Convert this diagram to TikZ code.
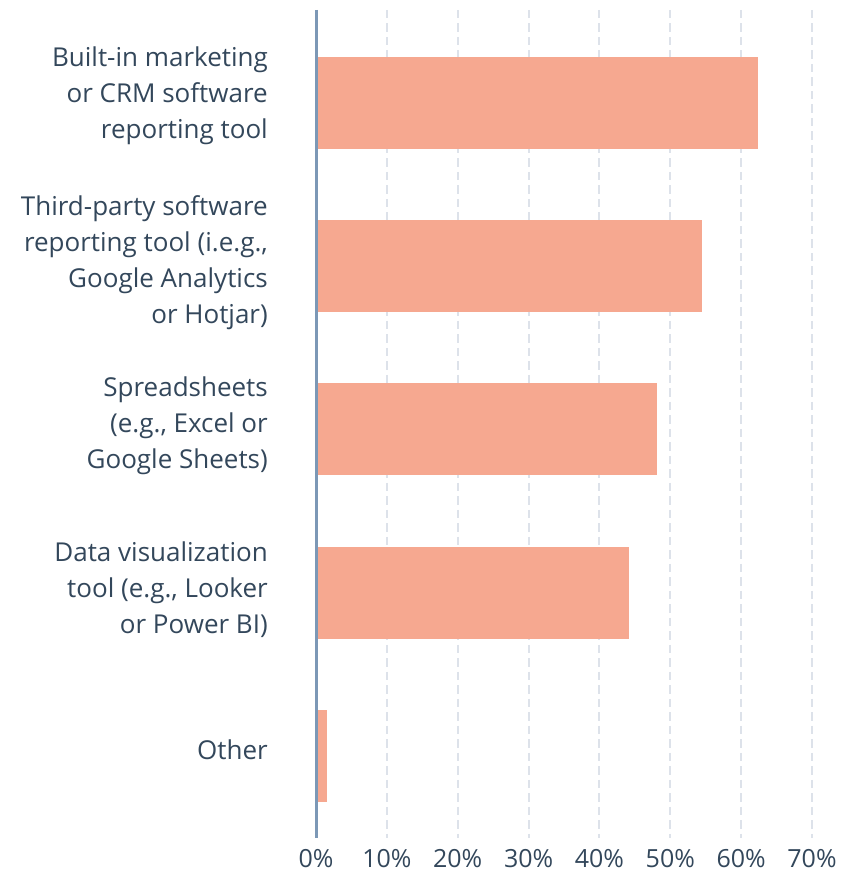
\documentclass[tikz,border=0pt]{standalone}
\usepackage{fontspec}
\setmainfont{Open Sans}[Ligatures=NoCommon]
\definecolor{txt}{HTML}{33475B}
\definecolor{axisc}{HTML}{7C98B6}
\definecolor{barc}{HTML}{F6A890}
\definecolor{gridc}{HTML}{DDE2EA}
\begin{document}
\begin{tikzpicture}[x=1pt,y=-1pt,
  lab/.style={anchor=east,align=right,inner sep=0pt,text=txt,
    font=\fontsize{26}{36}\selectfont},
  ticklab/.style={anchor=center,inner sep=0pt,text=txt,
    font=\fontsize{25}{30}\selectfont},
  gridl/.style={draw=gridc,line width=2pt,dash pattern=on 8.5pt off 5pt},
  barbox/.style={fill=barc,draw=none},
  axisl/.style={draw=axisc,line width=3pt}]
\useasboundingbox (0,0) rectangle (854,874);
% gridlines
\foreach \i in {1,...,7}{
  \coordinate (gt\i) at ({316+70.86*\i},10);
  \coordinate (gb\i) at ({316+70.86*\i},838);
  \draw[gridl] (gt\i) -- (gb\i);
}
% bars
\fill[barbox] (316,57) rectangle (758,148.7);
\fill[barbox] (316,220) rectangle (702,311.7);
\fill[barbox] (316,383) rectangle (657,474.7);
\fill[barbox] (316,547) rectangle (629,638.7);
\fill[barbox] (316,710) rectangle (327,801.7);
% axis
\coordinate (atop) at (316,10);
\coordinate (abot) at (316,838);
\draw[axisl] (atop) -- (abot);
% labels
\node[lab] (l1) at (268,96) {Built-in marketing\\or CRM software\\reporting tool};
\node[lab] (l2) at (268,263) {Third-party software\\reporting tool (i.e.g.,\\Google Analytics\\or Hotjar)};
\node[lab] (l3) at (268,426) {Spreadsheets\\(e.g., Excel or\\Google Sheets)};
\node[lab] (l4) at (268,590) {Data visualization\\tool (e.g., Looker\\or Power BI)};
\node[lab] (l5) at (268,750) {Other};
% tick labels
\node[ticklab] (t0) at (316,859) {0\%};
\foreach \i in {1,...,7}{
  \node[ticklab] (t\i) at ({316+70.86*\i},859) {\i0\%};
}
\end{tikzpicture}
\end{document}
